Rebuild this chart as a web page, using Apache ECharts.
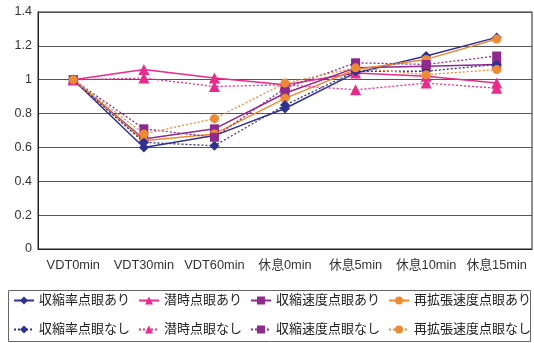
<!DOCTYPE html>
<html>
<head>
<meta charset="utf-8">
<script src="https://cdn.jsdelivr.net/npm/echarts@6/dist/echarts.min.js"></script>
<style>
html,body{margin:0;padding:0;background:#fff;}
#c{width:534px;height:343px;}
</style>
</head>
<body>
<div id="c"></div>
<script>
const cats = ['VDT0min','VDT30min','VDT60min','休息0min','休息5min','休息10min','休息15min'];
const names = ['収縮率点眼あり','潜時点眼あり','収縮速度点眼あり','再拡張速度点眼あり','収縮率点眼なし','潜時点眼なし','収縮速度点眼なし','再拡張速度点眼なし'];
const shrinkYes   = [1, 0.60, 0.67, 0.83, 1.04, 1.14, 1.25];
const latencyYes  = [1, 1.06, 1.01, 0.97, 1.04, 1.02, 0.98];
const speedYes    = [1, 0.65, 0.71, 0.92, 1.07, 1.08, 1.09];
const redilYes    = [1, 0.64, 0.68, 0.89, 1.06, 1.12, 1.24];
const shrinkNo    = [1, 0.63, 0.61, 0.85, 1.05, 1.05, 1.09];
const latencyNo   = [1, 1.01, 0.96, 0.97, 0.94, 0.98, 0.95];
const speedNo     = [1, 0.71, 0.66, 0.95, 1.10, 1.09, 1.14];
const redilNo     = [1, 0.68, 0.77, 0.98, 1.07, 1.03, 1.06];

const navy = '#2e3192', pink = '#ec2a8c', purple = '#8e2a8e', orange = '#f08a30';

function s(name, data, color, symbol, size, dotted){
  return {
    name, type:'line', data, symbol, symbolSize:size,
    lineStyle:{color, width: dotted?1.3:1.5, type: dotted?[2,2]:'solid'},
    itemStyle:{color},
    emphasis:{disabled:true}, animation:false
  };
}

const chart = echarts.init(document.getElementById('c'));
const font = '"Liberation Sans","Noto Sans CJK JP",sans-serif';
const legendBase = {itemWidth:20,itemHeight:10,itemGap:8,width:528,
  textStyle:{fontSize:13,color:'#222',fontFamily:font}};
chart.setOption({
  textStyle:{fontFamily:font},
  grid:{left:38,right:2,top:12,bottom:94,show:true,borderColor:'#222',borderWidth:1},
  xAxis:{
    type:'category', data:cats,
    axisLine:{lineStyle:{color:'#222',width:1}},
    axisTick:{inside:true,length:4,lineStyle:{color:'#222'}},
    axisLabel:{color:'#333',fontSize:12.8,margin:10,interval:0,fontFamily:font}
  },
  yAxis:{
    type:'value', min:0, max:1.4, interval:0.2,
    axisLine:{show:true,lineStyle:{color:'#222',width:1}},
    axisTick:{show:false},
    axisLabel:{color:'#333',fontSize:12.5,margin:6,fontFamily:font},
    splitLine:{lineStyle:{color:'#555',width:1}}
  },
  legend:[
    Object.assign({data:names.slice(0,4),left:8,top:289}, legendBase),
    Object.assign({data:names.slice(4),left:8,top:318}, legendBase)
  ],
  graphic:[{type:'rect',shape:{x:8.5,y:290.5,width:522,height:51},
    style:{fill:'none',stroke:'#666',lineWidth:1}}],
  series:[
    s(names[0], shrinkYes, navy, 'diamond', 10, false),
    s(names[1], latencyYes, pink, 'triangle', 11, false),
    s(names[2], speedYes, purple, 'rect', 9, false),
    s(names[3], redilYes, orange, 'circle', 9, false),
    s(names[4], shrinkNo, navy, 'diamond', 10, true),
    s(names[5], latencyNo, pink, 'triangle', 11, true),
    s(names[6], speedNo, purple, 'rect', 9, true),
    s(names[7], redilNo, orange, 'circle', 9, true)
  ]
});
</script>
</body>
</html>
